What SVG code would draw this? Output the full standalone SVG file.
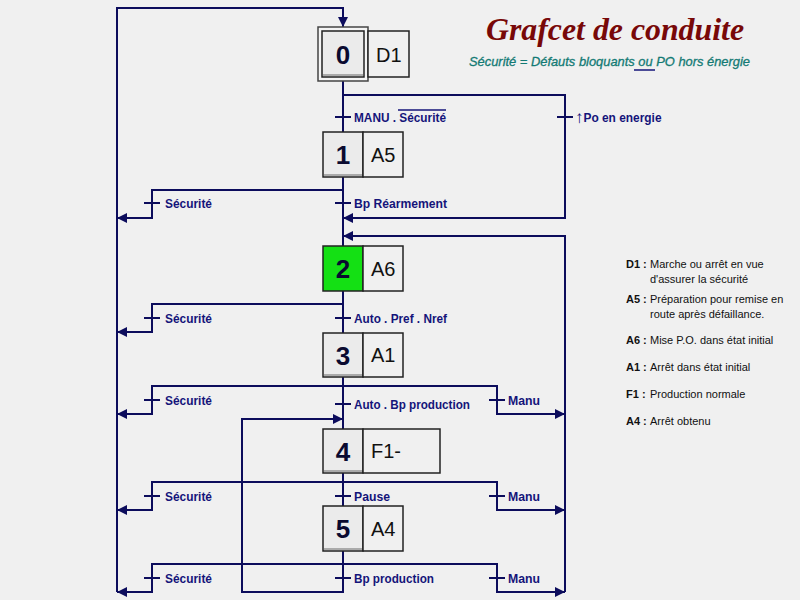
<svg xmlns="http://www.w3.org/2000/svg" width="800" height="600" viewBox="0 0 800 600">
<defs>
<marker id="ah" markerUnits="userSpaceOnUse" markerWidth="10" markerHeight="10" refX="10" refY="5" orient="auto">
<path d="M0,0 L10,5 L0,10 z" fill="#0c0c5c"/>
</marker>
<style>
.ln{fill:none;stroke:#0c0c5c;stroke-width:2}
.tk{stroke:#0c0c5c;stroke-width:2}
.lbl{font-family:"Liberation Sans",Arial,sans-serif;font-weight:bold;font-size:13px;fill:#14147a}
.step{fill:#ebebeb;stroke:#222;stroke-width:1.5}
.act{fill:#f0f0f0;stroke:#222;stroke-width:1.5}
.num{font-family:"Liberation Sans",Arial,sans-serif;font-weight:bold;font-size:26px;fill:#0a0a30;text-anchor:middle}
.atx{font-family:"Liberation Sans",Arial,sans-serif;font-size:20px;fill:#111}
.leg{font-family:"Liberation Sans",Arial,sans-serif;font-size:11px;fill:#111}
.legb{font-family:"Liberation Sans",Arial,sans-serif;font-size:11px;font-weight:bold;fill:#111}
</style>
</defs>
<rect width="800" height="600" fill="#f0f0f0"/>

<g id="title">
<text x="615" y="40" text-anchor="middle" font-family="Liberation Serif,'Times New Roman',serif" font-style="italic" font-weight="bold" font-size="31" fill="#780808" textLength="258" lengthAdjust="spacingAndGlyphs">Grafcet de conduite</text>
<text x="469" y="66" font-family="Liberation Sans,Arial,sans-serif" font-style="italic" font-size="13" fill="#137a74" stroke="#137a74" stroke-width="0.3" textLength="281" lengthAdjust="spacingAndGlyphs">Sécurité = Défauts bloquants ou PO hors énergie</text>
<line x1="634" y1="70" x2="655" y2="70" stroke="#14147a" stroke-width="1.5"/>
</g>

<g id="connectors">
<path class="ln" d="M117,592 V8 H343 V27" marker-end="url(#ah)"/>
<line class="ln" x1="343" y1="81" x2="343" y2="132"/>
<line class="ln" x1="343" y1="177" x2="343" y2="246"/>
<line class="ln" x1="343" y1="291" x2="343" y2="333"/>
<line class="ln" x1="343" y1="377" x2="343" y2="429"/>
<line class="ln" x1="343" y1="473" x2="343" y2="506"/>
<path class="ln" d="M343,551 V592 H242 V419 H343" marker-end="url(#ah)"/>
<path class="ln" d="M343,95 H565 V218 H343" marker-end="url(#ah)"/>
<path class="ln" d="M565,592 V236 H343" marker-end="url(#ah)"/>
<path class="ln" d="M343,190 H152 V218 H117" marker-end="url(#ah)"/>
<path class="ln" d="M343,304 H152 V332 H117" marker-end="url(#ah)"/>
<path class="ln" d="M343,386 H152 V414 H117" marker-end="url(#ah)"/>
<path class="ln" d="M343,482 H152 V510 H117" marker-end="url(#ah)"/>
<path class="ln" d="M343,564 H152 V592 H117" marker-end="url(#ah)"/>
<path class="ln" d="M343,386 H497 V414 H565" marker-end="url(#ah)"/>
<path class="ln" d="M343,482 H497 V510 H565" marker-end="url(#ah)"/>
<path class="ln" d="M343,564 H497 V592 H565" marker-end="url(#ah)"/>
<line class="tk" x1="335" y1="117" x2="351" y2="117"/>
<line class="tk" x1="557" y1="117" x2="573" y2="117"/>
<line class="tk" x1="144" y1="203" x2="160" y2="203"/>
<line class="tk" x1="335" y1="203" x2="351" y2="203"/>
<line class="tk" x1="144" y1="318" x2="160" y2="318"/>
<line class="tk" x1="335" y1="318" x2="351" y2="318"/>
<line class="tk" x1="144" y1="400" x2="160" y2="400"/>
<line class="tk" x1="335" y1="404" x2="351" y2="404"/>
<line class="tk" x1="489" y1="400" x2="505" y2="400"/>
<line class="tk" x1="144" y1="496" x2="160" y2="496"/>
<line class="tk" x1="335" y1="496" x2="351" y2="496"/>
<line class="tk" x1="489" y1="496" x2="505" y2="496"/>
<line class="tk" x1="144" y1="578" x2="160" y2="578"/>
<line class="tk" x1="335" y1="578" x2="351" y2="578"/>
<line class="tk" x1="489" y1="578" x2="505" y2="578"/>
</g>

<g id="transition-labels">
<text class="lbl" x="354" y="122" textLength="92" lengthAdjust="spacingAndGlyphs">MANU . Sécurité</text>
<line x1="398" y1="110" x2="446" y2="110" stroke="#14147a" stroke-width="1.3"/>
<text class="lbl" x="575" y="122"><tspan font-size="17" dy="1">↑</tspan><tspan dy="-1" textLength="78" lengthAdjust="spacingAndGlyphs">Po en energie</tspan></text>
<text class="lbl" x="165" y="208" textLength="47" lengthAdjust="spacingAndGlyphs">Sécurité</text>
<text class="lbl" x="354" y="208" textLength="93" lengthAdjust="spacingAndGlyphs">Bp Réarmement</text>
<text class="lbl" x="165" y="323" textLength="47" lengthAdjust="spacingAndGlyphs">Sécurité</text>
<text class="lbl" x="354" y="323" textLength="93" lengthAdjust="spacingAndGlyphs">Auto . Pref . Nref</text>
<text class="lbl" x="165" y="405" textLength="47" lengthAdjust="spacingAndGlyphs">Sécurité</text>
<text class="lbl" x="354" y="409" textLength="116" lengthAdjust="spacingAndGlyphs">Auto . Bp production</text>
<text class="lbl" x="508" y="405" textLength="32" lengthAdjust="spacingAndGlyphs">Manu</text>
<text class="lbl" x="165" y="501" textLength="47" lengthAdjust="spacingAndGlyphs">Sécurité</text>
<text class="lbl" x="354" y="501" textLength="36" lengthAdjust="spacingAndGlyphs">Pause</text>
<text class="lbl" x="508" y="501" textLength="32" lengthAdjust="spacingAndGlyphs">Manu</text>
<text class="lbl" x="165" y="583" textLength="47" lengthAdjust="spacingAndGlyphs">Sécurité</text>
<text class="lbl" x="354" y="583" textLength="80" lengthAdjust="spacingAndGlyphs">Bp production</text>
<text class="lbl" x="508" y="583" textLength="32" lengthAdjust="spacingAndGlyphs">Manu</text>
</g>

<g id="step0">
<rect x="318" y="27" width="50" height="54" fill="#f4f4f4" stroke="#444" stroke-width="1.5"/>
<rect x="322" y="31" width="42" height="46" class="step"/>
<line x1="323" y1="75" x2="363" y2="75" stroke="#aaa" stroke-width="2"/>
<text class="num" x="343" y="64">0</text>
<rect x="368" y="31" width="41" height="46" class="act"/>
<text class="atx" x="376" y="62">D1</text>
</g>
<g id="step1">
<rect x="323" y="132" width="40" height="45" class="step"/>
<line x1="324" y1="175" x2="362" y2="175" stroke="#aaa" stroke-width="2"/>
<text class="num" x="343" y="164">1</text>
<rect x="363" y="132" width="40" height="45" class="act"/>
<text class="atx" x="371" y="162">A5</text>
</g>
<g id="step2">
<rect x="323" y="246" width="40" height="45" fill="#14e014" stroke="#222" stroke-width="1.5"/>
<text class="num" x="343" y="278">2</text>
<rect x="363" y="246" width="40" height="45" class="act"/>
<text class="atx" x="371" y="276">A6</text>
</g>
<g id="step3">
<rect x="323" y="333" width="40" height="44" class="step"/>
<line x1="324" y1="375" x2="362" y2="375" stroke="#aaa" stroke-width="2"/>
<text class="num" x="343" y="365">3</text>
<rect x="363" y="333" width="40" height="44" class="act"/>
<text class="atx" x="371" y="362">A1</text>
</g>
<g id="step4">
<rect x="323" y="429" width="40" height="44" class="step"/>
<line x1="324" y1="471" x2="362" y2="471" stroke="#aaa" stroke-width="2"/>
<text class="num" x="343" y="461">4</text>
<rect x="363" y="429" width="77" height="44" class="act"/>
<text class="atx" x="371" y="458">F1-</text>
</g>
<g id="step5">
<rect x="323" y="506" width="40" height="45" class="step"/>
<line x1="324" y1="549" x2="362" y2="549" stroke="#aaa" stroke-width="2"/>
<text class="num" x="343" y="538">5</text>
<rect x="363" y="506" width="40" height="45" class="act"/>
<text class="atx" x="371" y="536">A4</text>
</g>

<g id="legend">
<text class="legb" x="626" y="268">D1 :</text><text class="leg" x="650" y="268">Marche ou arrêt en vue</text>
<text class="leg" x="650" y="283">d'assurer la sécurité</text>
<text class="legb" x="626" y="303">A5 :</text><text class="leg" x="650" y="303">Préparation pour remise en</text>
<text class="leg" x="650" y="318">route après défaillance.</text>
<text class="legb" x="626" y="344">A6 :</text><text class="leg" x="650" y="344">Mise P.O. dans état initial</text>
<text class="legb" x="626" y="371">A1 :</text><text class="leg" x="650" y="371">Arrêt dans état initial</text>
<text class="legb" x="626" y="398">F1 :</text><text class="leg" x="650" y="398">Production normale</text>
<text class="legb" x="626" y="425">A4 :</text><text class="leg" x="650" y="425">Arrêt obtenu</text>
</g>
</svg>
